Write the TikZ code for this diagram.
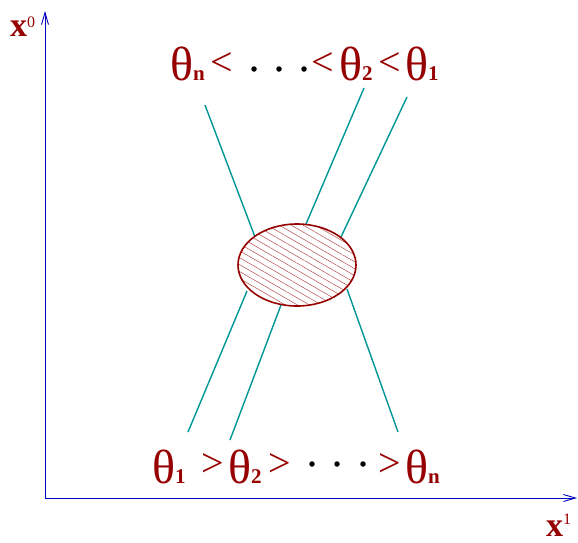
\documentclass[tikz,border=0pt]{standalone}
\usepackage{fontspec}
\setmainfont{Liberation Serif}
\usetikzlibrary{arrows.meta,patterns.meta,shapes.geometric}
\definecolor{dred}{RGB}{150,0,0}
\definecolor{tealline}{RGB}{0,150,150}
\definecolor{axblue}{RGB}{0,0,190}
\newcommand\thgroup[1]{{\fontsize{48}{48}\selectfont θ}{\fontsize{21}{21}\selectfont\bfseries #1}}
\begin{document}
\begin{tikzpicture}[x=1pt,y=-1pt,
  worldline/.style={tealline, line width=1.4pt},
  axisline/.style={axblue, line width=0.9pt, -{Straight Barb[length=12pt,width=7pt]}},
  thlabel/.style={dred, inner sep=0pt, anchor=base west},
  rel/.style={dred, inner sep=0pt, font=\fontsize{40}{40}\selectfont},
  dotmark/.style={circle, fill=black, inner sep=0pt, minimum size=5.5pt},
  axlabel/.style={dred, inner sep=0pt, anchor=base west}]
\useasboundingbox (0,0) rectangle (578,542);
% axes
\coordinate (O) at (45,498);
\coordinate (Ytip) at (45,11);
\coordinate (Xtip) at (577,498);
\draw[axisline] (O) -- (Ytip);
\draw[axisline] (O) -- (Xtip);
\node[axlabel] (x0) at (10,36) {{\fontsize{34}{34}\selectfont\bfseries x}\raisebox{9pt}{\fontsize{16}{16}\selectfont 0}};
\node[axlabel] (x1) at (546,536) {{\fontsize{34}{34}\selectfont\bfseries x}\raisebox{12pt}{\fontsize{16}{16}\selectfont 1}};
% world lines
\coordinate (a1) at (205,105); \coordinate (a2) at (255,237);
\coordinate (b1) at (364,88);  \coordinate (b2) at (306,224);
\coordinate (c1) at (407,97);  \coordinate (c2) at (341,237);
\coordinate (d1) at (188,432); \coordinate (d2) at (247,291);
\coordinate (e1) at (230,440); \coordinate (e2) at (281,305);
\coordinate (f1) at (398,432); \coordinate (f2) at (347,289);
\draw[worldline] (a1) -- (a2);
\draw[worldline] (b1) -- (b2);
\draw[worldline] (c1) -- (c2);
\draw[worldline] (d1) -- (d2);
\draw[worldline] (e1) -- (e2);
\draw[worldline] (f1) -- (f2);
% interaction region
\node[ellipse, draw=dred, line width=1.6pt, minimum width=118pt, minimum height=82pt,
  pattern={Lines[angle=-30,distance=6pt,line width=0.5pt]}, pattern color=dred!70] (blob) at (297,265) {};
% top row
\node[thlabel] (tn) at (170,80) {\thgroup{n}};
\node[rel] (lt1) at (222,64) {<};
\node[dotmark] (td1) at (254,69) {};
\node[dotmark] (td2) at (279,69) {};
\node[dotmark] (td3) at (304,69) {};
\node[rel] (lt2) at (323,64) {<};
\node[thlabel] (t2) at (339,80) {\thgroup{2}};
\node[rel] (lt3) at (390,64) {<};
\node[thlabel] (t1) at (405,80) {\thgroup{1}};
% bottom row
\node[thlabel] (b1n) at (152,483) {\thgroup{1}};
\node[rel] (gt1) at (213,465) {>};
\node[thlabel] (b2n) at (228,483) {\thgroup{2}};
\node[rel] (gt2) at (280,465) {>};
\node[dotmark] (bd1) at (312,464) {};
\node[dotmark] (bd2) at (337,464) {};
\node[dotmark] (bd3) at (363,464) {};
\node[rel] (gt3) at (390,465) {>};
\node[thlabel] (bnn) at (405,483) {\thgroup{n}};
\end{tikzpicture}
\end{document}
